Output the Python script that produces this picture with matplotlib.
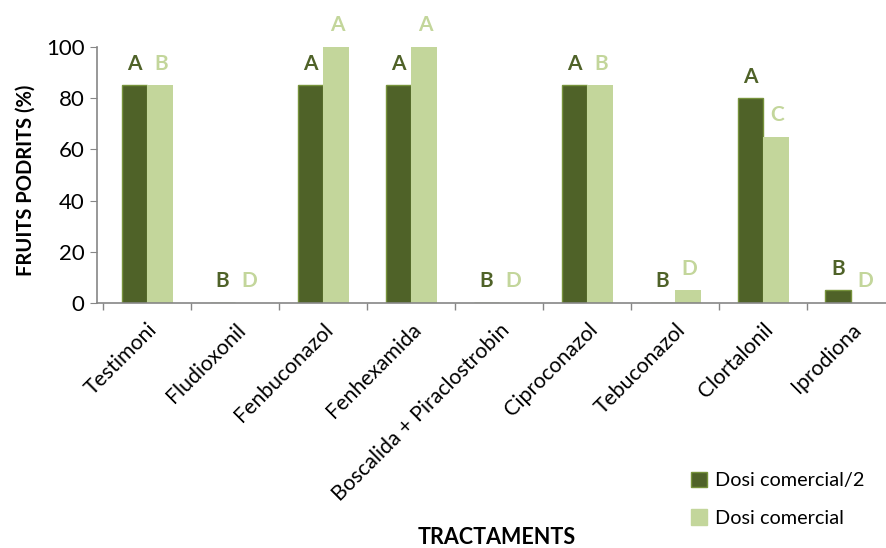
import numpy as np
import matplotlib.pyplot as plt
from matplotlib.patches import Patch

plt.rcParams['font.family'] = ['Lato', 'DejaVu Sans']

tractaments = ["Testimoni", "Fludioxonil", "Fenbuconazol", "Fenhexamida",
               "Boscalida + Piraclostrobin", "Ciproconazol", "Tebuconazol",
               "Clortalonil", "Iprodiona"]
dosi_meitat = [85, 0, 85, 85, 0, 85, 0, 80, 5]
dosi_comercial = [85, 0, 100, 100, 0, 85, 5, 65, 0]
lletres_meitat = ["A", "B", "A", "A", "B", "A", "B", "A", "B"]
lletres_comercial = ["B", "D", "A", "A", "D", "B", "D", "C", "D"]

fosc = "#4F6228"
vora = "#77933C"
clar = "#C3D69B"
gris = "#868686"

fig = plt.figure(figsize=(8.87, 5.48), dpi=100)
# axes run slightly past the right edge, as in the original
ax = fig.add_axes([97 / 887, 245 / 548, 798 / 887, 256 / 548])

x = np.arange(len(tractaments))
w = 0.29
ax.bar(x - w / 2, dosi_meitat, w, color=fosc, edgecolor=vora, linewidth=1)
ax.bar(x + w / 2, dosi_comercial, w, color=clar, edgecolor=clar, linewidth=0)

for xi, v, l in zip(x, dosi_meitat, lletres_meitat):
    ax.annotate(l, (xi - w / 2, v), xytext=(0, 15.5), textcoords="offset points",
                ha="center", va="center", fontsize=15, fontweight="bold", color=fosc)
for xi, v, l in zip(x, dosi_comercial, lletres_comercial):
    ax.annotate(l, (xi + w / 2, v), xytext=(1, 15.5), textcoords="offset points",
                ha="center", va="center", fontsize=15, fontweight="bold", color=clar)

ax.set_xlim(-0.57, 8.5)
ax.set_ylim(0, 100)
ax.set_yticks(range(0, 101, 20))
ax.tick_params(axis="y", labelsize=16, length=5, color=gris, pad=4)

ax.set_xticks(x)
ax.set_xticklabels(tractaments, rotation=45, ha="right", rotation_mode="anchor", fontsize=15.3)
ax.set_xticks(np.arange(-0.5, 9, 1), minor=True)
ax.tick_params(axis="x", which="major", length=0, pad=12)
ax.tick_params(axis="x", which="minor", length=5, color=gris, width=1)

for s in ["top", "right"]:
    ax.spines[s].set_visible(False)
for s in ["left", "bottom"]:
    ax.spines[s].set_color(gris)
    ax.spines[s].set_linewidth(1.2)

ax.set_ylabel("FRUITS PODRITS (%)", fontsize=14.5, fontweight="bold")
ax.yaxis.set_label_coords(-0.077, 0.48)
fig.text(497 / 887, 1 - 538 / 548, "TRACTAMENTS", ha="center", va="center",
         fontsize=15.5, fontweight="bold")

handles = [Patch(facecolor=fosc, edgecolor=vora), Patch(facecolor=clar, edgecolor=clar)]
fig.legend(handles, ["Dosi comercial/2", "Dosi comercial"], loc="upper left",
           bbox_to_anchor=(691 / 887, 1 - 472 / 548), frameon=False, fontsize=14.3,
           handlelength=0.8, handleheight=0.8, handletextpad=0.4, labelspacing=1.0,
           borderpad=0, borderaxespad=0)

fig.savefig("out.png", dpi=100)
